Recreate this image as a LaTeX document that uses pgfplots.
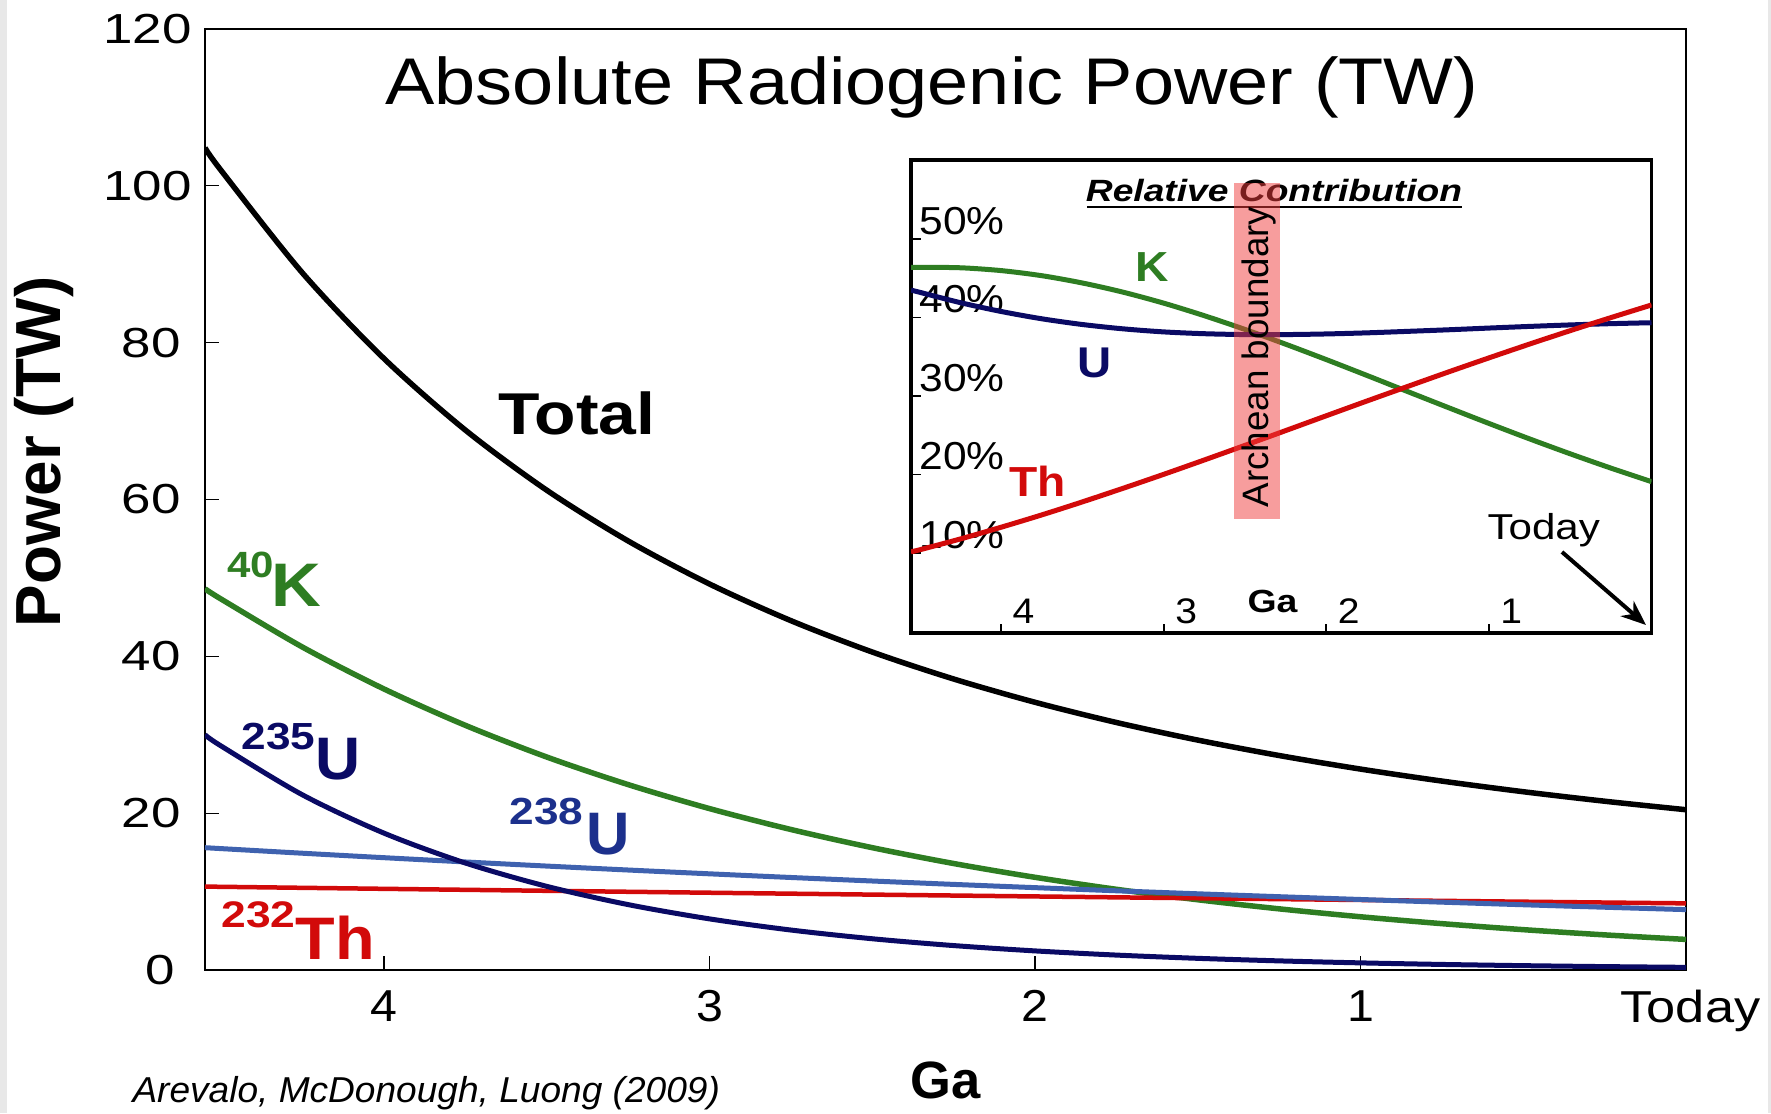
\documentclass[border=0pt]{standalone}
\usepackage{fontspec}
\setmainfont{Liberation Sans}
\usepackage{graphicx}
\usepackage{pgfplots}
\usepackage{pgfplotstable}
\pgfplotsset{compat=1.18}
\usetikzlibrary{arrows.meta}

\definecolor{kgreen}{RGB}{46,125,34}
\definecolor{unavy}{RGB}{10,10,100}
\definecolor{ublue}{RGB}{63,98,175}
\definecolor{ulab}{RGB}{28,48,140}
\definecolor{thred}{RGB}{210,10,10}
\definecolor{archred}{RGB}{240,60,60}

\newcommand\fsz[1]{\fontsize{#1}{#1}\selectfont}
\newcommand\sx[2]{\scalebox{#1}[1]{#2}}
\newcommand\yl[2]{\sx{1.26}{#1}\hspace*{#2}}

% absolute power (TW) versus age (Ga)
\pgfplotstableread{
t K U235 U238 Th Tot
0 3.900 0.340 7.700 8.500 20.440
0.25 4.480 0.435 8.005 8.605 21.525
0.5 5.146 0.556 8.322 8.712 22.736
0.75 5.911 0.711 8.651 8.820 24.093
1.0 6.790 0.910 8.993 8.930 25.623
1.25 7.800 1.164 9.349 9.040 27.353
1.5 8.960 1.489 9.719 9.152 29.320
1.75 10.292 1.904 10.103 9.266 31.565
2.0 11.823 2.436 10.503 9.381 34.143
2.25 13.581 3.116 10.918 9.497 37.112
2.5 15.600 3.985 11.350 9.615 40.550
2.75 17.920 5.098 11.799 9.734 44.551
3.0 20.584 6.520 12.266 9.855 49.225
3.25 23.645 8.340 12.751 9.977 54.713
3.5 27.161 10.668 13.255 10.101 61.185
3.75 31.200 13.645 13.779 10.226 68.850
4.0 35.839 17.454 14.324 10.353 77.970
4.25 41.168 22.325 14.891 10.481 88.865
4.5 47.290 28.556 15.480 10.611 101.937
4.55 48.620 30.000 15.600 10.637 104.857
}\abspower

% relative contribution (%)
\pgfplotstableread{
t K U Th
0 19.08 39.33 41.59
0.25 20.81 39.21 39.98
0.5 22.63 39.05 38.32
0.75 24.53 38.86 36.61
1.0 26.50 38.65 34.85
1.25 28.52 38.43 33.05
1.5 30.56 38.23 31.21
1.75 32.61 38.04 29.36
2.0 34.63 37.90 27.48
2.25 36.59 37.82 25.59
2.5 38.47 37.82 23.71
2.75 40.22 37.93 21.85
3.0 41.82 38.16 20.02
3.25 43.22 38.55 18.24
3.5 44.39 39.10 16.51
3.75 45.32 39.83 14.85
4.0 45.97 40.76 13.28
4.25 46.33 41.88 11.79
4.5 46.39 43.20 10.41
4.555 46.37 43.49 10.15
}\relpower

\begin{document}
\begin{tikzpicture}
\fill[white] (0,0) rectangle (708.4pt,445.2pt);
\fill[black!9] (0,0) rectangle (2.8pt,445.2pt);
\fill[black!9] (707.2pt,0) rectangle (708.4pt,445.2pt);

% ---------------- main axis ----------------
\begin{axis}[
  at={(82pt,57.2pt)}, anchor=south west,
  width=592.4pt, height=376.4pt, scale only axis,
  x dir=reverse, xmin=0, xmax=4.55, ymin=0, ymax=120,
  axis line style={line width=0.8pt},
  tick align=inside, tick pos=left,
  major tick length=5.6pt,
  tick style={line width=0.5pt, black},
  xtick={0,1,2,3,4},
  xticklabels={\hspace*{3.6pt}\sx{1.17}{Today},\sx{1.08}{1},\sx{1.08}{2},\sx{1.08}{3},\sx{1.08}{4}},
  ytick={0,20,40,60,80,100,120},
  yticklabels={\yl{0}{6.8pt},\yl{20}{4.4pt},\yl{40}{4.4pt},\yl{60}{4.4pt},\yl{80}{4.4pt},\yl{100}{0pt},\yl{120}{0pt}},
  xticklabel style={font=\fsz{17.9pt}, anchor=north, inner sep=0pt, yshift=-8pt},
  yticklabel style={font=\fsz{16.8pt}, anchor=east, inner sep=0pt, xshift=-5.2pt},
]
\addplot[no marks, smooth, black, line width=2.2pt] table[x=t,y=Tot]{\abspower};
\addplot[no marks, smooth, kgreen, line width=2.2pt] table[x=t,y=K]{\abspower};
\addplot[no marks, smooth, thred, line width=1.8pt] table[x=t,y=Th]{\abspower};
\addplot[no marks, smooth, ublue, line width=2pt] table[x=t,y=U238]{\abspower};
\addplot[no marks, smooth, unavy, line width=2pt] table[x=t,y=U235]{\abspower};
\end{axis}

% ---------------- inset axis ----------------
\begin{axis}[
  at={(364.4pt,192pt)}, anchor=south west,
  width=296.2pt, height=189.2pt, scale only axis,
  x dir=reverse, xmin=0, xmax=4.555, ymin=-0.2, ymax=60.06,
  axis background/.style={fill=white},
  axis line style={line width=1.5pt},
  tick align=inside, tick pos=left,
  major tick length=3.8pt,
  tick style={line width=0.7pt, black},
  xtick={1,2,3,4}, xticklabels={\sx{1.1}{1},\sx{1.1}{2},\sx{1.1}{3},\sx{1.1}{4}},
  ytick={10,20,30,40,50},
  yticklabels={\sx{1.09}{10\%},\sx{1.09}{20\%},\sx{1.09}{30\%},\sx{1.09}{40\%},\sx{1.09}{50\%}},
  xticklabel style={font=\fsz{14.2pt}, anchor=south west, inner sep=0pt, xshift=4.4pt, yshift=3.6pt},
  yticklabel style={font=\fsz{15.6pt}, anchor=south west, inner sep=0pt, xshift=3.2pt, yshift=1.6pt},
]
\addplot[no marks, smooth, kgreen, line width=2pt] table[x=t,y=K]{\relpower};
\addplot[no marks, smooth, unavy, line width=2pt] table[x=t,y=U]{\relpower};
\addplot[no marks, smooth, thred, line width=2pt] table[x=t,y=Th]{\relpower};
\end{axis}

% ---------------- texts in pixel coordinates ----------------
\begin{scope}[x=0.4pt,y=-0.4pt,shift={(0pt,445.2pt)}]
\node[anchor=base, inner sep=0pt, font=\fsz{26.4pt}] at (932,105) {\sx{1.12}{Absolute Radiogenic Power (TW)}};
\node[anchor=base west, inner sep=0pt, font=\fsz{23.6pt}\bfseries] at (498,435) {\sx{1.15}{Total}};
\node[anchor=base west, inner sep=0pt, font=\fsz{14.6pt}\bfseries, text=kgreen] at (227,578) {\sx{1.15}{40}};
\node[anchor=base west, inner sep=0pt, font=\fsz{24.6pt}\bfseries, text=kgreen] at (271,607) {\sx{1.12}{K}};
\node[anchor=base west, inner sep=0pt, font=\fsz{15.1pt}\bfseries, text=unavy] at (241,750) {\sx{1.17}{235}};
\node[anchor=base west, inner sep=0pt, font=\fsz{24pt}\bfseries, text=unavy] at (315,780) {\sx{1.04}{U}};
\node[anchor=base west, inner sep=0pt, font=\fsz{15.1pt}\bfseries, text=ulab] at (509,825) {\sx{1.17}{238}};
\node[anchor=base west, inner sep=0pt, font=\fsz{24pt}\bfseries, text=ulab] at (586,855) {U};
\node[anchor=base west, inner sep=0pt, font=\fsz{14.8pt}\bfseries, text=thred] at (221,928) {\sx{1.2}{232}};
\node[anchor=base west, inner sep=0pt, font=\fsz{24pt}\bfseries, text=thred] at (295,960) {\sx{1.08}{Th}};
\node[anchor=center, inner sep=0pt, font=\fsz{21pt}\bfseries] at (946,1080) {Ga};
\node[anchor=base west, inner sep=0pt, font=\fsz{14.4pt}\itshape] at (132,1103) {\sx{1.03}{Arevalo, McDonough, Luong (2009)}};
% inset texts
\node[anchor=base, inner sep=0pt, font=\fsz{12.3pt}\bfseries\itshape] at (1274,202) {\sx{1.21}{Relative Contribution}};
\draw[line width=0.8pt] (1087,207) -- (1462,207);
\node[anchor=base west, inner sep=0pt, font=\fsz{16.8pt}\bfseries, text=kgreen] at (1135,282) {\sx{1.1}{K}};
\node[anchor=base west, inner sep=0pt, font=\fsz{17.2pt}\bfseries, text=unavy] at (1077,378) {\sx{1.1}{U}};
\node[anchor=base west, inner sep=0pt, font=\fsz{16.8pt}\bfseries, text=thred] at (1009,497) {\sx{1.1}{Th}};
\node[anchor=base west, inner sep=0pt, font=\fsz{14.4pt}] at (1487,540) {\sx{1.17}{Today}};
\draw[line width=1.6pt, -{Stealth[length=10pt,width=8pt]}] (1562,552) -- (1646,625);
\node[anchor=base west, inner sep=0pt, font=\fsz{12.8pt}\bfseries] at (1247,613) {\sx{1.17}{Ga}};
\fill[archred, opacity=0.5] (1234,183) rectangle (1280,519);
\end{scope}

\node[rotate=90, anchor=base, inner sep=0pt, font=\fsz{25.5pt}\bfseries] at (24pt,264.4pt) {Power (TW)};
\node[rotate=90, anchor=center, inner sep=0pt, font=\fsz{14.7pt}] at (503.6pt,302.4pt) {Archean boundary};

\pgfresetboundingbox
\useasboundingbox (0,0) rectangle (708.4pt,445.2pt);
\end{tikzpicture}
\end{document}
